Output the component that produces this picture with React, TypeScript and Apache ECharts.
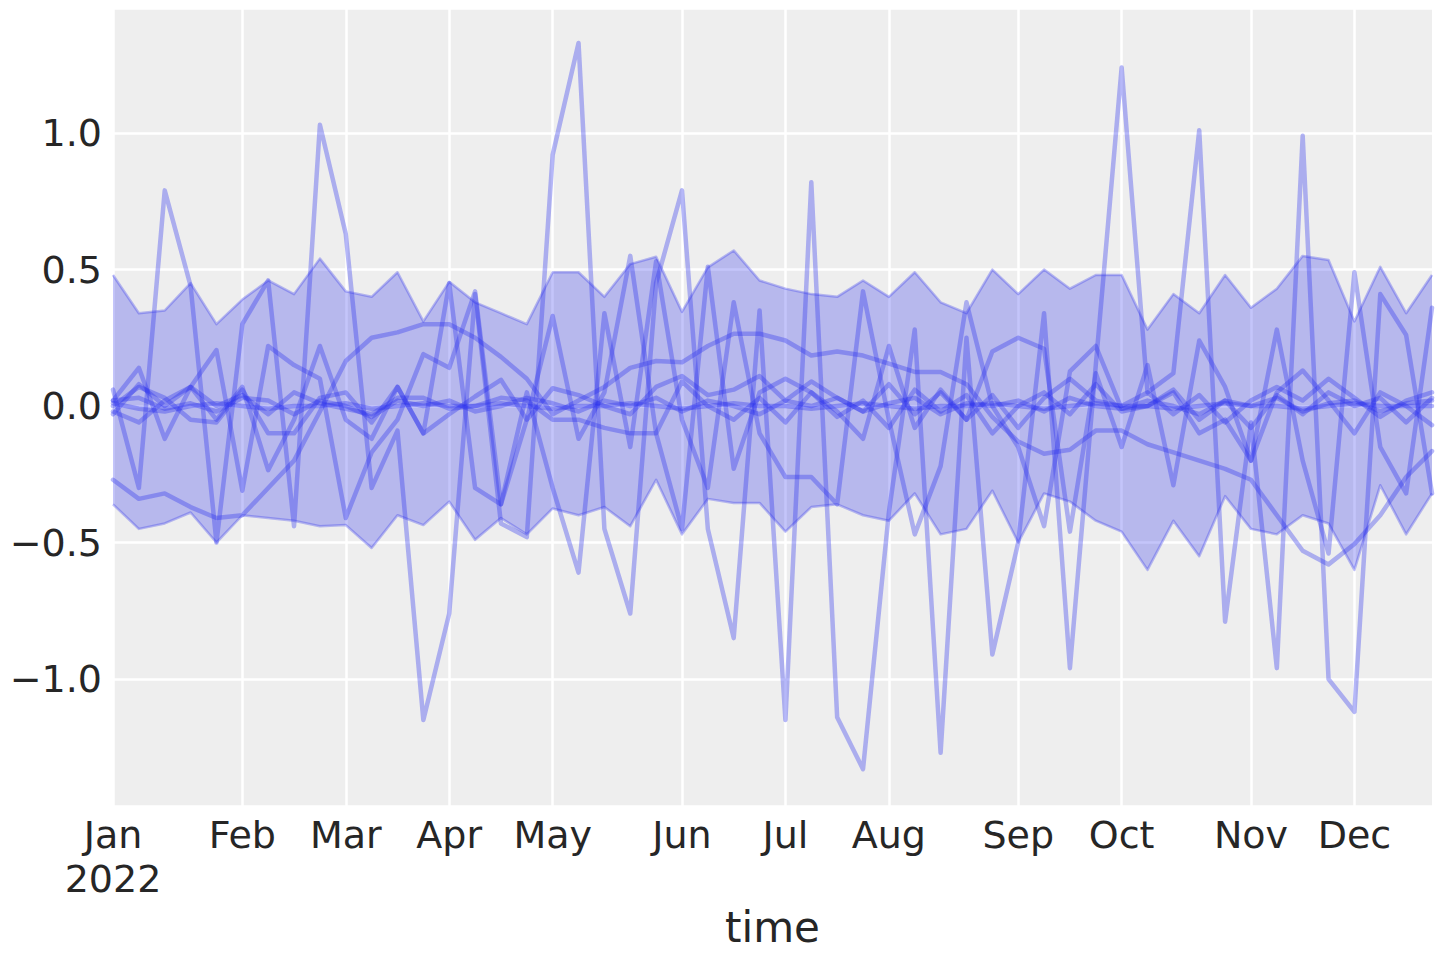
import React, { useEffect, useRef } from 'react';
import * as echarts from 'echarts';

// Month tick labels at weekly index positions (52 weekly periods, 2022)
const MONTH_TICKS: [number, string][] = [
  [0, 'Jan\n2022'], [5, 'Feb'], [9, 'Mar'], [13, 'Apr'], [17, 'May'], [22, 'Jun'],
  [26, 'Jul'], [30, 'Aug'], [35, 'Sep'], [39, 'Oct'], [44, 'Nov'], [48, 'Dec'],
];
const WEEKS: string[] = [
  '0','1','2','3','4','5','6','7','8','9','10','11','12','13','14','15','16','17','18','19',
  '20','21','22','23','24','25','26','27','28','29','30','31','32','33','34','35','36','37','38','39',
  '40','41','42','43','44','45','46','47','48','49','50','51',
];

// HDI band
const BAND_UPPER = [0.48,0.34,0.35,0.45,0.30,0.39,0.46,0.41,0.54,0.42,
  0.40,0.49,0.31,0.455,0.38,0.34,0.30,0.49,0.49,0.40,
  0.52,0.547,0.345,0.508,0.57,0.46,0.43,0.41,0.40,0.46,
  0.40,0.49,0.38,0.34,0.50,0.41,0.50,0.43,0.48,0.48,
  0.28,0.41,0.34,0.48,0.36,0.43,0.55,0.535,0.31,0.51,
  0.34,0.48];
const BAND_LOWER = [-0.36,-0.45,-0.43,-0.39,-0.50,-0.40,-0.41,-0.42,-0.44,-0.436,
  -0.52,-0.40,-0.436,-0.35,-0.49,-0.41,-0.47,-0.375,-0.40,-0.37,
  -0.44,-0.27,-0.47,-0.34,-0.355,-0.355,-0.46,-0.37,-0.36,-0.40,
  -0.42,-0.32,-0.47,-0.45,-0.31,-0.50,-0.32,-0.35,-0.42,-0.46,
  -0.60,-0.42,-0.55,-0.33,-0.45,-0.47,-0.40,-0.43,-0.60,-0.29,
  -0.47,-0.32];

// Sample lines
const LINE_SPIKY = [0.06,-0.30,0.79,0.44,-0.50,0.30,0.46,-0.44,1.03,0.63,
  -0.30,-0.09,-1.15,-0.76,0.41,-0.43,-0.48,0.92,1.33,-0.45,
  -0.76,0.45,0.79,-0.45,-0.85,0.35,-1.15,0.82,-1.14,-1.33,
  -0.39,0.28,-1.27,0.25,-0.91,-0.50,0.34,-0.96,0.15,1.24,
  0.05,0.12,1.01,-0.79,-0.06,-0.96,0.99,-1.00,-1.12,0.41,
  0.26,-0.32];
const LINE_SMOOTH = [-0.27,-0.34,-0.32,-0.37,-0.41,-0.40,-0.30,-0.20,-0.02,0.165,
  0.25,0.27,0.30,0.30,0.25,0.18,0.10,-0.03,0.02,0.07,
  0.14,0.165,0.16,0.22,0.265,0.265,0.24,0.185,0.20,0.185,
  0.155,0.125,0.125,0.08,-0.04,-0.13,-0.175,-0.16,-0.09,-0.09,
  -0.14,-0.17,-0.20,-0.23,-0.27,-0.40,-0.53,-0.58,-0.505,-0.40,
  -0.26,-0.165];
const LINE_MID_A = [0.02,0.14,-0.12,0.07,0.205,-0.31,0.22,0.15,0.10,-0.41,
  -0.17,-0.05,0.19,0.14,0.42,-0.36,-0.05,0.33,-0.12,0.05,
  0.55,-0.10,-0.45,0.51,-0.23,0.05,0.10,0.05,-0.02,-0.12,
  0.22,-0.08,0.06,-0.05,0.20,0.25,0.21,-0.46,0.12,-0.15,
  0.15,-0.29,0.24,0.07,-0.20,0.28,-0.20,-0.54,0.49,-0.15,
  -0.32,0.36];
const LINE_MID_B = [-0.03,0.08,0.0,0.07,-0.05,0.07,-0.235,-0.05,0.22,-0.05,
  -0.12,0.07,-0.10,0.45,-0.30,-0.36,0.05,-0.30,-0.61,0.34,
  -0.15,0.53,-0.05,-0.30,0.38,-0.10,-0.26,-0.26,-0.36,0.42,
  -0.05,-0.47,-0.22,0.38,0.0,-0.15,-0.44,0.127,0.22,-0.01,
  0.0,0.05,-0.10,-0.05,-0.20,0.05,0.13,0.02,-0.10,0.05,
  0.0,-0.07];
const LINE_SMALL_A = [0.0,0.07,0.03,-0.05,-0.06,0.06,-0.10,-0.10,0.03,0.05,
  -0.06,0.07,-0.10,-0.03,0.035,0.096,-0.05,0.065,0.04,0.0,
  -0.03,0.07,0.11,0.04,0.06,0.11,0.02,0.09,0.03,-0.02,
  0.08,-0.03,0.05,-0.05,0.04,-0.08,0.03,0.10,0.02,0.0,
  0.05,-0.03,0.04,-0.06,0.02,0.07,0.02,0.10,0.03,-0.04,
  0.02,0.05];
const LINE_SMALL_B = [-0.02,-0.06,0.02,0.07,0.0,0.04,-0.03,0.05,0.01,-0.01,
  -0.03,0.03,0.03,-0.01,0.0,0.03,0.02,-0.05,-0.05,-0.08,
  -0.10,-0.10,0.09,0.0,-0.05,0.03,-0.06,0.05,-0.04,0.02,
  -0.08,0.06,-0.02,0.04,-0.10,0.0,0.05,-0.03,0.08,-0.02,
  0.0,0.06,-0.05,0.02,-0.08,0.04,-0.03,0.05,0.0,0.03,
  -0.06,0.03];
const LINE_SMALL_C = [0.01,-0.01,-0.02,0.0,0.01,0.0,-0.01,0.0,0.0,0.01,
  -0.01,0.0,0.01,0.0,0.0,0.01,0.0,-0.01,0.0,0.0,
  0.01,0.0,-0.01,0.0,0.01,0.0,0.0,-0.01,0.0,0.01,
  0.0,-0.01,0.0,0.0,0.01,0.0,-0.01,0.0,0.01,0.0,
  0.0,-0.01,0.0,0.01,0.0,0.0,-0.01,0.0,0.01,0.0,
  0.0,0.0];
const LINE_SMALL_D = [0.02,0.03,-0.01,0.01,-0.02,0.03,0.02,-0.03,0.02,0.0,
  -0.04,0.02,0.0,0.02,-0.02,0.0,0.03,0.01,-0.02,0.02,
  0.0,0.03,-0.02,0.02,0.0,-0.03,0.02,0.0,0.03,-0.02,
  0.01,0.03,-0.03,0.01,0.0,0.02,-0.02,0.03,0.0,-0.01,
  0.02,0.0,-0.03,0.02,0.0,0.03,-0.02,0.01,0.02,-0.02,
  0.01,0.02];

const BLUE = '#2a2eec';
const TEXT = '#262626';
const FONT = 'DejaVu Sans';

export default function App() {
  const ref = useRef<HTMLDivElement>(null);
  useEffect(() => {
    if (!ref.current) return;
    const chart = echarts.init(ref.current, null, { renderer: 'svg' });
    const tickMap = new Map<number, string>(MONTH_TICKS);
    const bandDiff = BAND_UPPER.map((u, i) => +(u - BAND_LOWER[i]).toFixed(4));
    const sampleLines = [
      LINE_SMALL_C, LINE_SMALL_D, LINE_SMALL_A, LINE_SMALL_B,
      LINE_MID_B, LINE_MID_A, LINE_SMOOTH, LINE_SPIKY,
    ];
    const fmtY = (v: number) => {
      const r = Math.round(v * 2) / 2;
      if (Math.abs(r - v) > 1e-6) return '';
      const s = Math.abs(r).toFixed(1);
      return r < 0 ? '\u2212' + s : s;
    };
    chart.setOption({
      animation: false,
      backgroundColor: '#ffffff',
      grid: {
        left: 113, right: 8, top: 8, bottom: 154,
        show: true, backgroundColor: '#eeeeee', borderWidth: 0,
      },
      xAxis: {
        type: 'category',
        data: WEEKS,
        boundaryGap: false,
        axisLine: { show: false },
        axisTick: { show: false },
        axisLabel: {
          interval: (i: number) => tickMap.has(i),
          formatter: (v: string) => tickMap.get(Number(v)) ?? '',
          fontSize: 38, color: TEXT, fontFamily: FONT, margin: 7, lineHeight: 44,
        },
        splitLine: {
          show: true,
          interval: (i: number) => tickMap.has(i),
          lineStyle: { color: '#ffffff', width: 2.5 },
        },
        name: 'time',
        nameLocation: 'middle',
        nameGap: 100,
        nameTextStyle: { fontSize: 42, color: TEXT, fontFamily: FONT },
      },
      yAxis: {
        type: 'value',
        min: -1.465,
        max: 1.458,
        axisLine: { show: false },
        axisTick: { show: false },
        axisLabel: {
          formatter: fmtY,
          fontSize: 38, color: TEXT, fontFamily: FONT, margin: 11,
          showMinLabel: false, showMaxLabel: false,
        },
        splitLine: { show: true, lineStyle: { color: '#ffffff', width: 2.5 } },
      },
      series: [
        {
          type: 'line', data: BAND_LOWER, stack: 'band', stackStrategy: 'all',
          symbol: 'none', silent: true, z: 2,
          lineStyle: { color: BLUE, width: 2.5, opacity: 0.3, join: 'round' },
        },
        {
          type: 'line', data: bandDiff, stack: 'band', stackStrategy: 'all',
          symbol: 'none', silent: true, z: 2,
          lineStyle: { color: BLUE, width: 2.5, opacity: 0.3, join: 'round' },
          areaStyle: { color: BLUE, opacity: 0.28 },
        },
        ...sampleLines.map((d) => ({
          type: 'line', data: d, symbol: 'none', silent: true, z: 3,
          lineStyle: { color: BLUE, width: 4.5, opacity: 0.34, join: 'round', cap: 'round' },
        })),
      ],
    });
    return () => chart.dispose();
  }, []);
  return (
    <div
      ref={ref}
      style={{ position: 'fixed', left: 0, top: 0, width: 1440, height: 960, background: '#fff' }}
    />
  );
}
